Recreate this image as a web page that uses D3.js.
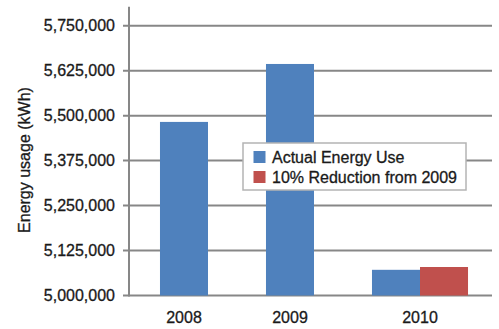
<!DOCTYPE html>
<html>
<head>
<meta charset="utf-8">
<script src="https://cdn.jsdelivr.net/npm/d3@7"></script>
<style>
  body { margin: 0; background: #fff; }
  svg { display: block; font-family: "Liberation Sans", Arial, sans-serif; }
  text { stroke: #1a1a1a; stroke-width: 0.3px; }
</style>
</head>
<body>
<script>
const W = 499, H = 329;

// data
const years = ['2008', '2009', '2010'];
const seriesNames = ['Actual Energy Use', '10% Reduction from 2009'];
const actualUse = [5482500, 5643600, 5071400];
const reduction = [null, null, 5079200];
const yTicks = [5000000, 5125000, 5250000, 5375000, 5500000, 5625000, 5750000];
const colors = ['#4f81bd', '#c0504d'];

const gridColor = '#878787';
const textColor = '#1a1a1a';

const svg = d3.select('body').append('svg')
    .attr('width', W).attr('height', H);

// plot area
const plotLeft = 129, plotRight = 492, plotTop = 7.7, plotBottom = 295.5;

const y = d3.scaleLinear().domain([5000000, 5800000]).range([plotBottom, plotTop]);

// category band scale, inner scale for the two series
const x = d3.scaleBand().domain(years).range([155, 473])
    .paddingInner(0.094).paddingOuter(0.047);
const xs = d3.scaleBand().domain([0, 1]).range([0, x.bandwidth()]);

// gridlines + ticks
const gridG = svg.append('g');
gridG.selectAll('line').data(yTicks).join('line')
    .attr('x1', plotLeft - 6).attr('x2', plotRight)
    .attr('y1', d => y(d)).attr('y2', d => y(d))
    .attr('stroke', gridColor).attr('stroke-width', 2);

svg.append('g').selectAll('text').data(yTicks).join('text')
    .attr('x', 115).attr('y', d => y(d))
    .attr('dy', '0.36em')
    .attr('text-anchor', 'end')
    .attr('font-size', 16)
    .attr('fill', textColor)
    .text(d3.format(','));

// bars
const rows = years.map((yr, i) => ({ yr, vals: [actualUse[i], reduction[i]] }));
const groups = svg.append('g').selectAll('g').data(rows).join('g')
    .attr('transform', d => `translate(${x(d.yr)},0)`);

groups.selectAll('rect')
    .data(d => d.vals.map((v, s) => ({ v, s })).filter(e => e.v != null))
    .join('rect')
    .attr('x', e => xs(e.s))
    .attr('width', xs.bandwidth())
    .attr('y', e => y(e.v))
    .attr('height', e => y.range()[0] - y(e.v))
    .attr('fill', e => colors[e.s]);

// vertical axis line
svg.append('line')
    .attr('x1', plotLeft).attr('x2', plotLeft)
    .attr('y1', plotTop - 1).attr('y2', plotBottom + 1)
    .attr('stroke', gridColor).attr('stroke-width', 2);

// x labels centred under the bars that exist in each category
svg.append('g').selectAll('text').data(rows).join('text')
    .attr('x', d => {
        const present = d.vals.map((v, s) => v != null ? s : null).filter(s => s != null);
        const x0 = x(d.yr) + xs(present[0]);
        const x1 = x(d.yr) + xs(present[present.length - 1]) + xs.bandwidth();
        return (x0 + x1) / 2;
    })
    .attr('y', 323)
    .attr('text-anchor', 'middle')
    .attr('font-size', 16)
    .attr('fill', textColor)
    .text(d => d.yr);

// y axis title
svg.append('text')
    .attr('transform', 'translate(30,160) rotate(-90)')
    .attr('text-anchor', 'middle')
    .attr('font-size', 16)
    .attr('fill', textColor)
    .text('Energy usage (kWh)');

// legend
const legend = svg.append('g').attr('transform', 'translate(243,143)');
legend.append('rect')
    .attr('width', 223).attr('height', 47)
    .attr('fill', '#fff')
    .attr('stroke', '#b4b4b4').attr('stroke-width', 1.5);

const items = legend.selectAll('g').data(seriesNames).join('g')
    .attr('transform', (d, i) => `translate(10.5,${8 + i * 20})`);
items.append('rect')
    .attr('width', 12).attr('height', 12)
    .attr('fill', (d, i) => colors[i]);
items.append('text')
    .attr('x', 18.5).attr('y', 12)
    .attr('font-size', 16)
    .attr('fill', textColor)
    .text(d => d);
</script>
</body>
</html>
